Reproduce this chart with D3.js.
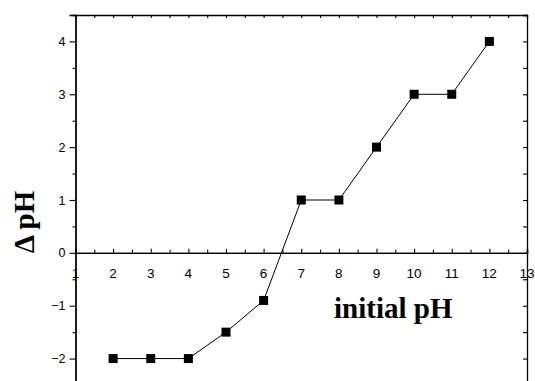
<!DOCTYPE html>
<html><head><meta charset="utf-8">
<script src="https://cdn.jsdelivr.net/npm/d3@7"></script>
<style>html,body{margin:0;padding:0;background:#fff;}svg{display:block;}</style>
</head><body>
<svg id="c" width="535" height="381"></svg>
<script>
const initialPH = [2, 3, 4, 5, 6, 7, 8, 9, 10, 11, 12];
const deltaPH = [-2, -2, -2, -1.5, -0.9, 1, 1, 2, 3, 3, 4];
const xTicks = [1, 2, 3, 4, 5, 6, 7, 8, 9, 10, 11, 12, 13];
const yTicks = [-2, -1, 0, 1, 2, 3, 4];

const svg = d3.select("#c");
const L = 75.5, R = 527, T = 15, B = 385;
const x = d3.scaleLinear().domain([1, 13]).range([L, R]);
const y = d3.scaleLinear().domain([-2.5, 4.5]).range([B, T]);
const minorX = d3.range(1.5, 13, 1);
const minorY = d3.range(-2.5, 4.6, 1);

// top frame
const topAx = svg.append("g").attr("transform", `translate(0,${T})`)
  .call(d3.axisBottom(x).tickValues(xTicks.concat(minorX)).tickSize(3).tickFormat(""));
// right frame
const rightAx = svg.append("g").attr("transform", `translate(${R},0)`)
  .call(d3.axisLeft(y).tickValues(yTicks.concat(minorY)).tickSize(4).tickFormat(""));
// left axis
const leftAx = svg.append("g").attr("transform", `translate(${L},0)`)
  .call(d3.axisLeft(y).tickValues(yTicks).tickSize(6).tickPadding(4).tickFormat(d3.format("d")));
leftAx.append("g").call(d3.axisLeft(y).tickValues(minorY).tickSize(3).tickFormat(""));
// x axis at y=0
const xa = svg.append("g").attr("transform", `translate(0,${y(0)})`)
  .call(d3.axisTop(x).tickValues(xTicks).tickSize(4).tickFormat(""));
xa.append("g").call(d3.axisTop(x).tickValues(minorX).tickSize(3).tickFormat(""));
xa.selectAll(".lbl").data(xTicks).enter().append("text")
  .attr("x", d => x(d)).attr("y", 25).attr("text-anchor", "middle")
  .attr("font-family", "Liberation Sans, Arial, sans-serif").attr("font-size", 13.5)
  .attr("fill", "#000").text(d => d);

svg.selectAll(".domain").attr("stroke", "#000").attr("stroke-width", 1.3);
svg.selectAll(".tick line").attr("stroke", "#000").attr("stroke-width", 1.1);
leftAx.selectAll(".tick text").attr("font-family", "Liberation Sans, Arial, sans-serif")
  .attr("font-size", 12.5).attr("fill", "#000");

// line
svg.append("path").datum(initialPH.map((v, i) => [v, deltaPH[i]]))
  .attr("fill", "none").attr("stroke", "#000").attr("stroke-width", 1)
  .attr("d", d3.line().x(d => x(d[0])).y(d => y(d[1])));
// markers
svg.selectAll(".m").data(initialPH).enter().append("rect")
  .attr("x", (d) => x(d) - 4.5).attr("y", (d, i) => y(deltaPH[i]) - 4.5)
  .attr("width", 9).attr("height", 9).attr("fill", "#000");

// labels
svg.append("text").attr("transform", "translate(34,222) rotate(-90)")
  .attr("text-anchor", "middle").attr("font-family", "Liberation Serif, Times New Roman, serif")
  .attr("font-weight", "bold").attr("font-size", 29).attr("fill", "#000").text("Δ pH");
svg.append("text").attr("x", 334).attr("y", 318)
  .attr("font-family", "Liberation Serif, Times New Roman, serif")
  .attr("font-weight", "bold").attr("font-size", 29).attr("fill", "#000").text("initial pH");
</script>
</body></html>
